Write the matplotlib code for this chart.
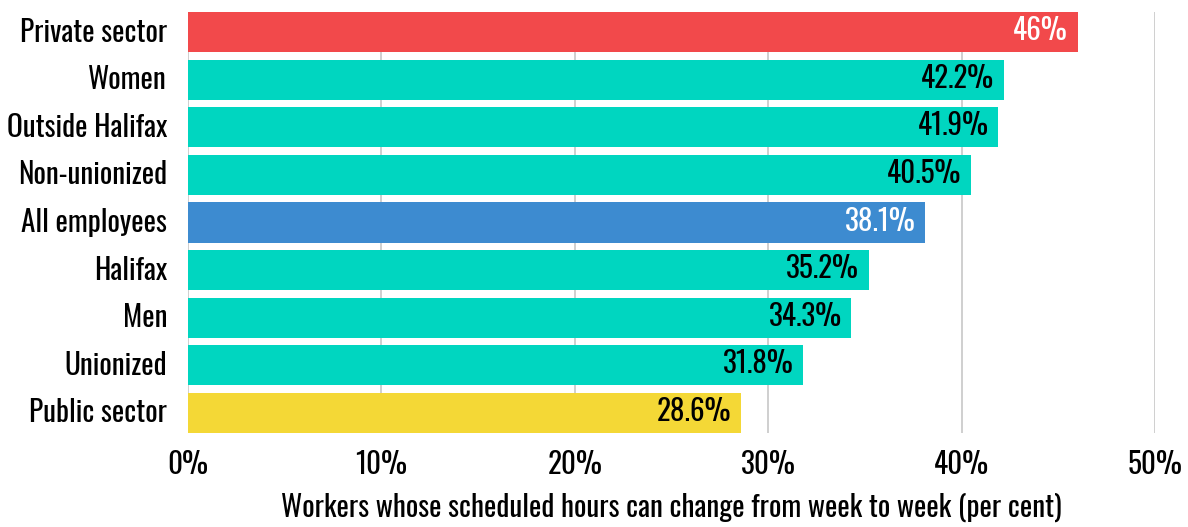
import matplotlib
matplotlib.use("Agg")
import matplotlib.pyplot as plt

plt.rcParams['font.family'] = ['Oswald', 'DejaVu Sans']

categories = ["Private sector", "Women", "Outside Halifax", "Non-unionized",
              "All employees", "Halifax", "Men", "Unionized", "Public sector"]
values = [46.0, 42.2, 41.9, 40.5, 38.1, 35.2, 34.3, 31.8, 28.6]
value_labels = ["46%", "42.2%", "41.9%", "40.5%", "38.1%", "35.2%", "34.3%", "31.8%", "28.6%"]
xticks = [0, 10, 20, 30, 40, 50]
xtick_labels = ["0%", "10%", "20%", "30%", "40%", "50%"]
xlabel = "Workers whose scheduled hours can change from week to week (per cent)"

RED = "#F2494B"
TEAL = "#00D6C0"
BLUE = "#3D8BD0"
YELLOW = "#F4D836"
colors = [RED, TEAL, TEAL, TEAL, BLUE, TEAL, TEAL, TEAL, YELLOW]
text_colors = ["white", "black", "black", "black", "white", "black", "black", "black", "black"]

fig = plt.figure(figsize=(11.88, 5.27), dpi=100)
ax = fig.add_axes([188/1188, 1-433/527, (1155-188)/1188, (433-12)/527])

h = 0.84
ypos = list(range(len(categories)))
ax.barh(ypos, values, height=h, color=colors, zorder=2)
ax.set_ylim(len(categories) - 1 + h/2, -h/2)
ax.set_xlim(0, 50)

for y, v, lab, tc in zip(ypos, values, value_labels, text_colors):
    ax.annotate(lab, (v, y), xytext=(-7, 1), textcoords="offset points",
                ha="right", va="center", color=tc, fontsize=21)

ax.set_yticks(ypos)
ax.set_yticklabels(categories, fontsize=21, va="center")
for t in ax.get_yticklabels():
    t.set_y(t.get_position()[1])
ax.set_xticks(xticks)
ax.set_xticklabels(xtick_labels, fontsize=21)
ax.tick_params(axis="y", length=0, pad=15)
ax.tick_params(axis="x", length=0, pad=12)
ax.grid(axis="x", color="#cccccc", linewidth=1.3, zorder=0)
for s in ax.spines.values():
    s.set_visible(False)
ax.set_xlabel(xlabel, fontsize=21, labelpad=10)

fig.savefig("out.png", dpi=100)
